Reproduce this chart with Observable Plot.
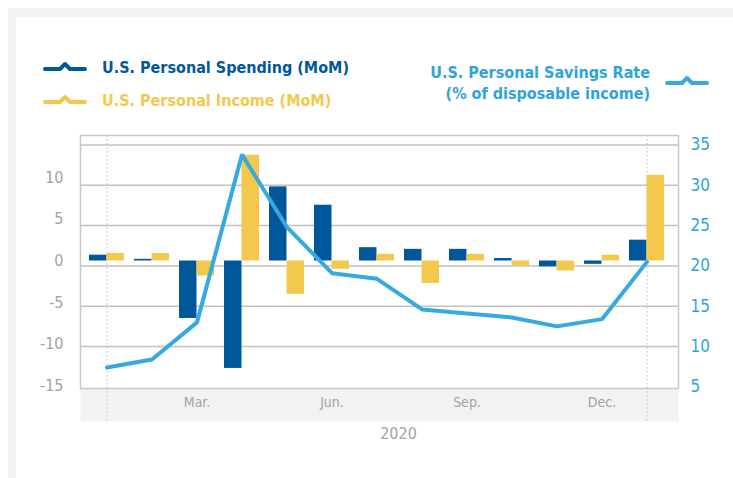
<!DOCTYPE html>
<html>
<head>
<meta charset="utf-8">
<script src="https://cdn.jsdelivr.net/npm/d3@7"></script>
<script src="https://cdn.jsdelivr.net/npm/@observablehq/plot@0.6"></script>
<style>
  html, body { margin: 0; padding: 0; background: #fff; }
  #wrap { position: relative; width: 733px; height: 478px; overflow: hidden;
          font-family: "DejaVu Sans Condensed", "DejaVu Sans", sans-serif; }
  #bg { position: absolute; left: 8px; top: 8px; right: 0; bottom: 0; background: #f2f2f2; }
  #panel { position: absolute; left: 16px; top: 17px; right: 0; bottom: 0; background: #fff; }
  .layer { position: absolute; left: 0; top: 0; }
  .layer svg { display: block; max-width: none; }
  .lg { position: absolute; font-weight: bold; font-size: 16px; line-height: 21px; white-space: nowrap; }
  .icon { position: absolute; }
</style>
</head>
<body>
<div id="wrap">
  <div id="bg"></div>
  <div id="panel"></div>
  <div class="layer" id="base"></div>
  <div class="layer" id="bars"></div>
  <div class="layer" id="line"></div>

  <svg class="icon" style="left:43px;top:59px" width="44" height="14">
    <polyline points="2,10 17,10 22,5 27,10 42,10" fill="none" stroke="#00589b" stroke-width="4" stroke-linecap="round" stroke-linejoin="round"/>
  </svg>
  <div class="lg" id="lgSpend" style="left:102px;top:57px;color:#00589b"></div>
  <svg class="icon" style="left:43px;top:92px" width="44" height="14">
    <polyline points="2,10 17,10 22,5 27,10 42,10" fill="none" stroke="#f2c94c" stroke-width="4" stroke-linecap="round" stroke-linejoin="round"/>
  </svg>
  <div class="lg" id="lgIncome" style="left:102px;top:90px;color:#f2c94c"></div>
  <div class="lg" id="lgSave" style="right:83px;top:62px;color:#2fa3dc;text-align:right"></div>
  <svg class="icon" style="left:665px;top:73px" width="44" height="14">
    <polyline points="2,10 17,10 22,5 27,10 42,10" fill="none" stroke="#36a9e1" stroke-width="4" stroke-linecap="round" stroke-linejoin="round"/>
  </svg>
</div>
<script>
// ---- data ----
const months = ["2020-01","2020-02","2020-03","2020-04","2020-05","2020-06","2020-07",
                "2020-08","2020-09","2020-10","2020-11","2020-12","2021-01"];
const spending = [0.7, 0.2, -6.9, -12.9, 8.9, 6.7, 1.6, 1.4, 1.4, 0.3, -0.7, -0.4, 2.5];
const income   = [0.9, 0.9, -1.8, 12.7, -4.0, -1.0, 0.8, -2.7, 0.8, -0.6, -1.2, 0.7, 10.3];
const savings  = [7.4, 8.4, 13.0, 33.8, 24.8, 19.1, 18.4, 14.6, 14.1, 13.6, 12.5, 13.4, 20.5];
const xTickMonths = ["2020-03","2020-06","2020-09","2020-12"];
const xTickLabels = ["Mar.","Jun.","Sep.","Dec."];
const yearBounds = ["2020-01","2021-01"];
const yearLabel = ["2020"];
const leftTicks = [-15, -10, -5, 0, 5, 10];
const rightTicks = [5, 10, 15, 20, 25, 30, 35];
const gridTicks = [10, 15, 20, 25, 30, 35];
const seriesNames = ["U.S. Personal Spending (MoM)", "U.S. Personal Income (MoM)"];
const savingsName = ["U.S. Personal Savings Rate", "(% of disposable income)"];

const table = months.map((m, i) => ({month: m, spending: spending[i], income: income[i], savings: savings[i]}));

// ---- shared layout ----
const W = 733, H = 478;
const common = {
  width: W, height: H,
  marginLeft: 80, marginRight: 55, marginTop: 135, marginBottom: 90,
  style: {background: "transparent", fontFamily: "'DejaVu Sans Condensed', 'DejaVu Sans', sans-serif"}
};
const xScale = {type: "band", domain: months, paddingInner: 0.2265, paddingOuter: 0.221, align: 0.4};
const savingsY = {domain: [4.80, 36.17]};
const barsY = {domain: [-15.31, 15.07]};

// layer 1: frame, grid, right axis, x axis
const base = Plot.plot({
  ...common,
  x: {...xScale, axis: null},
  y: {...savingsY, axis: null},
  marks: [
    Plot.frame({fill: "#f2f2f2", insetTop: 253, insetBottom: -33}),
    Plot.ruleY(gridTicks, {stroke: "#c2c2c2", strokeWidth: 1.5}),
    Plot.frame({stroke: "#c8c8c8", strokeWidth: 1.5}),
    Plot.ruleX(yearBounds, {stroke: "#b8b8b8", strokeDasharray: "1.5,2.5", strokeWidth: 1, insetBottom: -33}),
    Plot.axisY(rightTicks, {anchor: "right", tickSize: 0, tickPadding: 12, color: "#2fa3dc", fontSize: 17,
      tickFormat: d => String(d), label: null}),
    Plot.axisX(xTickMonths, {anchor: "bottom", tickSize: 0, tickPadding: 9, color: "#a3a3a3", fontSize: 14,
      tickFormat: d => xTickLabels[xTickMonths.indexOf(d)], label: null}),
    Plot.text(yearLabel, {frameAnchor: "bottom", dy: 50, dx: 19, fill: "#a3a3a3", fontSize: 16})
  ]
});
document.getElementById("base").append(base);

// layer 2: bars and left axis
const bars = Plot.plot({
  ...common,
  x: {...xScale, axis: null},
  y: {...barsY, axis: null},
  marks: [
    Plot.barY(table, {x: "month", y: "spending", fill: "#00589b", insetRight: 17.5}),
    Plot.barY(table, {x: "month", y: "income", fill: "#f2c94c", insetLeft: 17.5}),
    Plot.axisY(leftTicks, {anchor: "left", tickSize: 0, tickPadding: 17, color: "#a3a3a3", fontSize: 16,
      tickFormat: d => String(d), label: null})
  ]
});
document.getElementById("bars").append(bars);

// layer 3: savings line
const line = Plot.plot({
  ...common,
  x: {...xScale, axis: null},
  y: {...savingsY, axis: null},
  marks: [
    Plot.lineY(table, {x: "month", y: "savings", stroke: "#36a9e1", strokeWidth: 4, strokeLinejoin: "miter"})
  ]
});
document.getElementById("line").append(line);

// legend text
document.getElementById("lgSpend").textContent = seriesNames[0];
document.getElementById("lgIncome").textContent = seriesNames[1];
document.getElementById("lgSave").innerHTML = savingsName[0] + "<br>" + savingsName[1];
</script>
</body>
</html>
